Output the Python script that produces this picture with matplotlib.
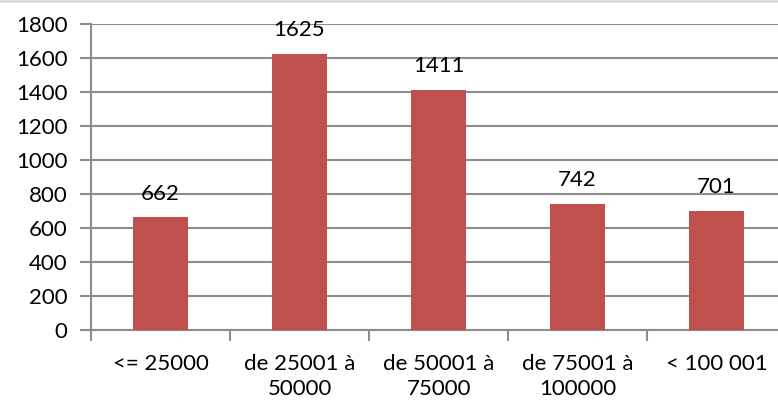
import matplotlib
matplotlib.use("Agg")
import matplotlib.pyplot as plt
import numpy as np

categories = ["<= 25000", "de 25001 à\n50000", "de 50001 à\n75000", "de 75001 à\n100000", "< 100 001"]
values = [662, 1625, 1411, 742, 701]
yticks = [0, 200, 400, 600, 800, 1000, 1200, 1400, 1600, 1800]

plt.rcParams['font.family'] = ['Lato', 'DejaVu Sans']

fig = plt.figure(figsize=(7.78, 4.07), dpi=100)
ax = fig.add_axes([91/778, 1-330/407, 695/778, 306/407])

x = np.arange(len(categories))
bar_color = "#C0504D"
grid_color = "#8C8C8C"

ax.bar(x, values, width=0.4, color=bar_color, zorder=3)
for xi, v in zip(x, values):
    ax.annotate(str(v), (xi, v), xytext=(0, 10), textcoords="offset points",
                ha="center", va="bottom", fontsize=16, color="black")

ax.set_xlim(-0.5, len(categories) - 0.5)
ax.set_ylim(0, 1800)
ax.set_yticks(yticks)
ax.set_yticklabels([str(t) for t in yticks], fontsize=16)
ax.yaxis.grid(True, color=grid_color, linewidth=1.5, zorder=0)
ax.set_axisbelow(True)

ax.set_xticks(np.arange(-0.5, len(categories), 1.0))
ax.set_xticklabels([])
ax.set_xticks(x, minor=True)
ax.set_xticklabels(categories, minor=True, fontsize=16, linespacing=1.35)
ax.tick_params(axis='x', which='minor', length=0, pad=17)
ax.tick_params(axis='x', which='major', length=8, width=1.5, color=grid_color)
ax.tick_params(axis='y', length=8, width=1.5, color=grid_color, pad=9)

for s in ["top", "right"]:
    ax.spines[s].set_visible(False)
for s in ["left", "bottom"]:
    ax.spines[s].set_color(grid_color)
    ax.spines[s].set_linewidth(1.5)

# faint top border of the chart frame
fig.add_artist(plt.Line2D([0, 1], [1 - 1/407, 1 - 1/407], transform=fig.transFigure,
                          color="#D9D9D9", linewidth=2))

fig.savefig("out.png", dpi=100)
